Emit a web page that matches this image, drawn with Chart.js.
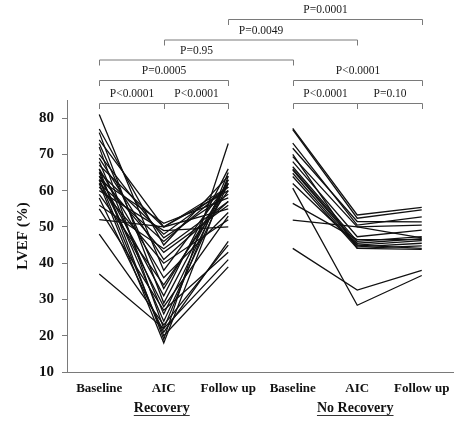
<!DOCTYPE html>
<html>
<head>
<meta charset="utf-8">
<script src="https://cdn.jsdelivr.net/npm/chart.js@4.4.1/dist/chart.umd.min.js"></script>
<style>
  html, body { margin: 0; padding: 0; background: #fff; }
  #wrap { width: 454px; height: 422px; }
</style>
</head>
<body>
<div id="wrap"><canvas id="chart"></canvas></div>
<script>
// time points on the x axis (shown once per group)
const timePoints = ['Baseline', 'AIC', 'Follow up'];
const groups = ['Recovery', 'No Recovery'];
const yTicks = [10, 20, 30, 40, 50, 60, 70, 80];

// LVEF (%) per patient, Recovery group
const recoveryBaseline = [81, 77, 76, 74, 73, 72, 70, 69, 68, 67, 66, 66, 65, 65, 64, 64, 63, 63, 62, 62, 61, 60, 59, 58, 56, 55, 52, 48, 37, 63];
const recoveryAIC      = [38, 45, 29, 50, 33, 22, 47, 41, 26, 50, 19, 36, 48, 24, 43, 31, 51, 28, 46, 18, 40, 49, 34, 21, 44, 27, 50, 23, 22, 20];
const recoveryFollowUp = [62, 64, 63, 60, 62, 65, 59, 57, 63, 55, 73, 54, 61, 62, 56, 66, 58, 53, 61, 64, 52, 50, 60, 46, 57, 43, 61, 45, 41, 39];

// LVEF (%) per patient, No Recovery group
const noRecoveryBaseline = [77.2, 76.8, 73.1, 71.7, 69.4, 68, 66.6, 66, 65.7, 64.8, 63.9, 62, 56.5, 51.9, 60.7, 44.1, 70];
const noRecoveryAIC      = [53.3, 52.4, 50.5, 51.5, 50, 47.3, 46, 45.5, 45, 44.5, 44.1, 45, 46.5, 50, 28.4, 32.6, 44.1];
const noRecoveryFollowUp = [55.4, 54.7, 52.8, 51.4, 50.5, 49.1, 47.3, 46.8, 46.2, 45.5, 44.8, 44.1, 46.5, 47, 36.6, 38, 43.8];

// pairwise comparisons shown as brackets (indexes into the 6 x positions)
const comparisons = [
  { from: 0, to: 1, label: 'P<0.0001', level: 0 },
  { from: 1, to: 2, label: 'P<0.0001', level: 0 },
  { from: 3, to: 4, label: 'P<0.0001', level: 0 },
  { from: 4, to: 5, label: 'P=0.10', level: 0 },
  { from: 0, to: 2, label: 'P=0.0005', level: 1 },
  { from: 3, to: 5, label: 'P<0.0001', level: 1 },
  { from: 0, to: 3, label: 'P=0.95', level: 2 },
  { from: 1, to: 4, label: 'P=0.0049', level: 3 },
  { from: 2, to: 5, label: 'P=0.0001', level: 4 }
];

const labels = timePoints.concat(timePoints);
const datasets = [];
recoveryBaseline.forEach((b, i) => {
  datasets.push({ data: [b, recoveryAIC[i], recoveryFollowUp[i], null, null, null] });
});
noRecoveryBaseline.forEach((b, i) => {
  datasets.push({ data: [null, null, null, b, noRecoveryAIC[i], noRecoveryFollowUp[i]] });
});

const serif = '"Liberation Serif", "Times New Roman", serif';
const levelY = [103, 80, 59.5, 39.5, 19]; // bracket rows, pixels from the top

const bracketPlugin = {
  id: 'brackets',
  afterDraw(chart) {
    const ctx = chart.ctx;
    const x = chart.scales.x;
    ctx.save();
    ctx.strokeStyle = '#7a7a7a';
    ctx.lineWidth = 1;
    ctx.fillStyle = '#1a1a1a';
    ctx.textAlign = 'center';
    ctx.textBaseline = 'middle';
    ctx.font = '11.5px ' + serif;
    comparisons.forEach(c => {
      const y = levelY[c.level];
      const x1 = Math.round(x.getPixelForValue(c.from)) + 0.5;
      const x2 = Math.round(x.getPixelForValue(c.to)) + 0.5;
      ctx.beginPath();
      ctx.moveTo(x1, y + 6);
      ctx.lineTo(x1, y + 0.5);
      ctx.lineTo(x2, y + 0.5);
      ctx.lineTo(x2, y + 6);
      ctx.stroke();
      ctx.fillText(c.label, (x1 + x2) / 2, y - 9);
    });

    // group names under the axis, underlined
    ctx.font = 'bold 14px ' + serif;
    ctx.fillStyle = '#111';
    ctx.strokeStyle = '#333';
    groups.forEach((g, i) => {
      const cx = x.getPixelForValue(1 + i * 3) - 2;
      const w = ctx.measureText(g).width;
      ctx.fillText(g, cx, 408);
      ctx.beginPath();
      ctx.moveTo(cx - w / 2, 415.5);
      ctx.lineTo(cx + w / 2, 415.5);
      ctx.stroke();
    });
    ctx.restore();
  }
};

new Chart(document.getElementById('chart'), {
  type: 'line',
  data: { labels: labels, datasets: datasets },
  options: {
    responsive: true,
    maintainAspectRatio: false,
    animation: false,
    layout: { padding: { top: 100, right: 0, left: 0, bottom: 0 } },
    elements: {
      line: { borderColor: '#111', borderWidth: 1.3, tension: 0 },
      point: { radius: 0 }
    },
    plugins: { legend: { display: false }, tooltip: { enabled: false } },
    scales: {
      x: {
        offset: true,
        grid: { display: false, drawTicks: false },
        border: { display: true, color: '#7a7a7a' },
        ticks: { color: '#111', padding: 9, maxRotation: 0, autoSkip: false, font: { family: serif, size: 13, weight: 'bold' } },
        afterFit(scale) {
          scale.height = 50;
          scale.paddingLeft = 0;
          scale.paddingRight = 0;
        }
      },
      y: {
        min: 10,
        max: 85,
        afterBuildTicks(scale) { scale.ticks = yTicks.map(v => ({ value: v })); },
        grid: { display: true, drawOnChartArea: false, drawTicks: true, tickLength: 5, color: '#7a7a7a' },
        border: { display: true, color: '#7a7a7a' },
        ticks: { color: '#111', padding: 8, font: { family: serif, size: 15, weight: 'bold' } },
        title: { display: true, text: 'LVEF (%)', color: '#111', padding: { top: 14, bottom: 0 }, font: { family: serif, size: 15, weight: 'bold' } },
        afterFit(scale) { scale.width = 67; }
      }
    }
  },
  plugins: [bracketPlugin]
});
</script>
</body>
</html>
